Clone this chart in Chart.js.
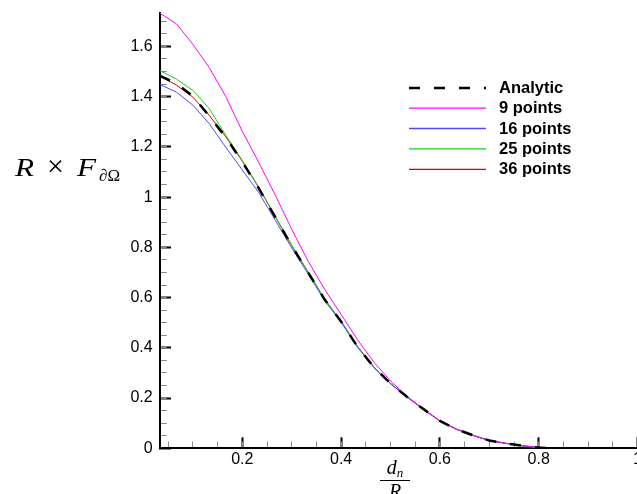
<!DOCTYPE html>
<html><head><meta charset="utf-8">
<script src="https://cdn.jsdelivr.net/npm/chart.js@4.4.1/dist/chart.umd.min.js"></script>
<style>
html,body{margin:0;padding:0;background:#fff;overflow:hidden;width:637px;height:494px;}
#wrap{position:relative;width:660px;height:494px;}
canvas{position:absolute;left:0;top:0;}
.math{position:absolute;font-family:"Liberation Serif","DejaVu Serif",serif;color:#000;white-space:nowrap;font-weight:normal;}
.g{position:absolute;display:block;}
#ytitle{left:0;top:0;}
#ytitle .big{font-size:25px;line-height:25px;top:155px;}
#ytitle .it{font-style:italic;transform:scaleX(1.25);transform-origin:left center;}
#ytitle .times{font-size:30px;line-height:30px;top:151px;}
#ytitle .sub{font-size:17px;line-height:17px;top:166.8px;}
#xtitle{left:380px;top:458px;width:30px;text-align:center;font-size:20px;}
#xtitle .num{border-bottom:1px solid #000;line-height:19px;padding-bottom:1px;}
#xtitle .den{line-height:20px;}
#xtitle .sb{font-size:13px;position:relative;top:3px;}
</style></head>
<body>
<div id="wrap">
<canvas id="c" width="660" height="494"></canvas>
<div id="ytitle" class="math">
  <span class="g big it" style="left:15px">R</span>
  <span class="g times" style="left:47px">×</span>
  <span class="g big it" style="left:77px">F</span>
  <span class="g sub" style="left:99px"><i>∂</i>Ω</span>
</div>
<div id="xtitle" class="math"><div class="num"><i>d</i><i class="sb">n</i></div><div class="den"><i>R</i></div></div>
</div>
<script>
// ---- data ----
const dn = [0.0334,0.0667,0.1,0.1333,0.1667,0.2,0.2333,0.2667,0.3,0.3333,0.3667,0.4,0.4333,0.4667,0.5,0.5333,0.5667,0.6,0.6333,0.6667,0.7,0.7333,0.7667,0.8,0.8333,0.8667,0.9,0.9333,0.9667,1.0];
const analytic = [1.483,1.452,1.402,1.322,1.238,1.140,1.035,0.920,0.806,0.700,0.592,0.505,0.404,0.322,0.258,0.205,0.156,0.109,0.076,0.052,0.031,0.020,0.010,0.003,0,0,0,0,0,0];
const points9  = [1.732,1.690,1.608,1.515,1.400,1.262,1.138,1.008,0.872,0.745,0.633,0.533,0.432,0.342,0.268,0.207,0.156,0.109,0.076,0.052,0.031,0.020,0.010,0.003];
const points16 = [1.448,1.418,1.366,1.292,1.198,1.108,1.018,0.908,0.798,0.694,0.588,0.502,0.402,0.320,0.257,0.204,0.155,0.108,0.076,0.051,0.030,0.019,0.010,0.003];
const points25 = [1.503,1.470,1.425,1.352,1.246,1.146,1.040,0.924,0.809,0.702,0.594,0.506,0.405,0.323,0.259,0.205,0.156,0.110,0.077,0.052,0.031,0.020,0.010,0.003];
const points36 = [1.482,1.446,1.398,1.325,1.240,1.143,1.038,0.922,0.807,0.701,0.593,0.506,0.405,0.323,0.258,0.205,0.156,0.109,0.076,0.052,0.031,0.020,0.010,0.003];
const seriesLabels = ['Analytic','9 points','16 points','25 points','36 points'];
const xMin = 0.0334, xMax = 1.0, yMin = 0, yMax = 1.733;

const toXY = arr => arr.map((v,i)=>({x: dn[i], y: v}));
const fmt = v => String(+Number(v).toFixed(2));
const TICK_FONT = {family:'"Liberation Sans", Arial, Helvetica, sans-serif', size:16};
function noPad(s){ s.paddingTop = 0; s.paddingBottom = 0; s.paddingLeft = 0; s.paddingRight = 0; }

const legendPlugin = {
  id:'customLegend',
  afterDraw(chart){
    const ctx = chart.ctx;
    ctx.save();
    chart.data.datasets.forEach((ds,i)=>{
      const yc = 87.7 + i*20.4;
      const y = ds.borderDash ? Math.round(yc) : yc;
      ctx.beginPath();
      ctx.strokeStyle = ds.borderColor;
      ctx.lineWidth = ds.borderDash ? ds.borderWidth : 1.3;
      ctx.setLineDash(ds.borderDash || []);
      ctx.moveTo(409, y);
      ctx.lineTo(486, y);
      ctx.stroke();
      ctx.setLineDash([]);
      ctx.fillStyle = '#000';
      ctx.font = 'bold 16.5px "Liberation Sans", Arial, Helvetica, sans-serif';
      ctx.textBaseline = 'middle';
      ctx.textAlign = 'left';
      ctx.fillText(ds.label, 499, yc + 0.5);
    });
    ctx.restore();
  }
};

new Chart(document.getElementById('c'), {
  type:'line',
  data:{
    datasets:[
      {label:seriesLabels[0], data:toXY(analytic), borderColor:'#000000', borderWidth:2.5, borderDash:[11,14]},
      {label:seriesLabels[1], data:toXY(points9),  borderColor:'#ff00ff', borderWidth:1},
      {label:seriesLabels[2], data:toXY(points16), borderColor:'#4d4dff', borderWidth:1},
      {label:seriesLabels[3], data:toXY(points25), borderColor:'#1ecc1e', borderWidth:1},
      {label:seriesLabels[4], data:toXY(points36), borderColor:'#e00000', borderWidth:1}
    ]
  },
  options:{
    responsive:false, animation:false, devicePixelRatio:1,
    layout:{padding:{left:0,right:22.5,top:13,bottom:0}},
    elements:{point:{radius:0}, line:{tension:0, fill:false}},
    plugins:{legend:{display:false}, tooltip:{enabled:false}},
    scales:{
      x:{type:'linear', position:'bottom', min:xMin, max:xMax, weight:1, z:1,
         ticks:{stepSize:0.2, includeBounds:false, padding:13, color:'#000', font:TICK_FONT, maxRotation:0, autoSkip:false, callback:fmt},
         grid:{drawOnChartArea:false, drawTicks:true, tickLength:-11, tickWidth:2, tickColor:'#000'},
         border:{display:true, color:'#000', width:2},
         afterFit(s){ s.height = 45.7; noPad(s); }},
      xm:{type:'linear', position:'bottom', min:xMin, max:xMax, weight:0, z:0,
         ticks:{display:false, stepSize:0.05, includeBounds:false},
         grid:{drawOnChartArea:false, drawTicks:true, tickLength:-6.7, tickWidth:1, tickColor:'#8a8a8a'},
         border:{display:false},
         afterFit(s){ s.height = 0; noPad(s); }},
      y:{type:'linear', position:'left', min:yMin, max:yMax, weight:1, z:1,
         ticks:{stepSize:0.2, includeBounds:false, padding:18.3, color:'#000', font:TICK_FONT, autoSkip:false, callback:fmt},
         grid:{drawOnChartArea:false, drawTicks:true, tickLength:-11, tickWidth:2, tickColor:'#000'},
         border:{display:true, color:'#000', width:2},
         afterFit(s){ s.width = 160; noPad(s); }},
      ym:{type:'linear', position:'left', min:yMin, max:yMax, weight:0, z:0,
         ticks:{display:false, stepSize:0.05, includeBounds:false},
         grid:{drawOnChartArea:false, drawTicks:true, tickLength:-6.7, tickWidth:1, tickColor:'#8a8a8a'},
         border:{display:false},
         afterFit(s){ s.width = 0; noPad(s); }}
    }
  },
  plugins:[legendPlugin]
});
</script>
</body></html>
